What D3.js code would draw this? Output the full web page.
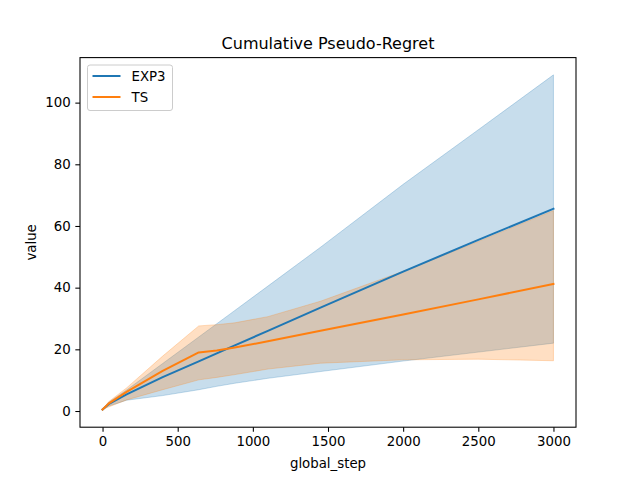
<!DOCTYPE html>
<html>
<head>
<meta charset="utf-8">
<script src="https://cdn.jsdelivr.net/npm/d3@7"></script>
<style>
  html, body { margin: 0; padding: 0; background: #fff; }
  svg { display: block; font-family: "DejaVu Sans", sans-serif; }
</style>
</head>
<body>
<svg id="chart" width="640" height="480"></svg>
<script>
// ---- data ----
const steps = [0, 40, 160, 400, 640, 760, 880, 1100, 1450, 2000, 2500, 3000];
const exp3Mean  = [0.5, 2.2, 5.4, 11.0, 16.1, 18.7, 21.3, 26.0, 33.5, 45.2, 55.5, 65.6];
const exp3Upper = [0.5, 2.8, 6.8, 15.4, 24.0, 28.3, 32.6, 40.5, 53.1, 73.5, 91.2, 109.0];
const exp3Lower = [0.5, 1.6, 3.5, 5.0, 6.9, 8.0, 9.0, 10.6, 12.8, 16.2, 19.1, 22.0];
const tsMean    = [0.5, 2.4, 6.2, 13.0, 19.0, 19.6, 20.6, 22.6, 26.0, 31.3, 36.2, 41.2];
const tsUpper   = [0.5, 3.0, 7.5, 17.8, 27.6, 28.0, 28.6, 30.6, 35.6, 45.3, 55.0, 65.0];
const tsLower   = [0.5, 1.3, 3.6, 6.9, 10.1, 10.9, 11.8, 13.6, 15.5, 16.6, 16.8, 16.3];
const seriesNames = ["EXP3", "TS"];
const xTicks = [0, 500, 1000, 1500, 2000, 2500, 3000];
const yTicks = [0, 20, 40, 60, 80, 100];
const colors = ["#1f77b4", "#ff7f0e"];

const series = [
  {name: seriesNames[0], mean: exp3Mean, lo: exp3Lower, hi: exp3Upper, color: colors[0]},
  {name: seriesNames[1], mean: tsMean, lo: tsLower, hi: tsUpper, color: colors[1]}
];

const mLeft = 80, mRight = 576, mTop = 57.6, mBottom = 427.2;
const svg = d3.select("#chart");

const x = d3.scaleLinear().domain([-150, 3150]).range([mLeft, mRight]);
const y = d3.scaleLinear().domain([-5.25, 114.6]).range([mBottom, mTop]);

const bands = svg.append("g");
const lines = svg.append("g");
series.forEach(s => {
  const pts = steps.map((st, i) => ({x: st, m: s.mean[i], lo: s.lo[i], hi: s.hi[i]}));
  const line = d3.line().x(d => x(d.x)).y(d => y(d.m));
  const area = d3.area().x(d => x(d.x)).y0(d => y(d.lo)).y1(d => y(d.hi));
  bands.append("path").datum(pts).attr("d", area)
    .attr("fill", s.color).attr("fill-opacity", 0.25)
    .attr("stroke", s.color).attr("stroke-opacity", 0.25).attr("stroke-width", 1);
  lines.append("path").datum(pts).attr("d", line)
    .attr("fill", "none").attr("stroke", s.color).attr("stroke-width", 2)
    .attr("stroke-linejoin", "round").attr("stroke-linecap", "square");
});

// axes
const xAxis = d3.axisBottom(x).tickValues(xTicks).tickSize(4.67).tickPadding(4.67).tickFormat(d3.format("d"));
const yAxis = d3.axisLeft(y).tickValues(yTicks).tickSize(4.67).tickPadding(4.67).tickFormat(d3.format("d"));
const gx = svg.append("g").attr("transform", `translate(0,${mBottom})`).call(xAxis);
const gy = svg.append("g").attr("transform", `translate(${mLeft},0)`).call(yAxis);
[gx, gy].forEach(g => {
  g.select(".domain").remove();
  g.selectAll("line").attr("stroke", "#000").attr("stroke-width", 1.07);
  g.selectAll("text").attr("fill", "#000").style("font-size", "13.33px")
    .style("font-family", "'DejaVu Sans', sans-serif");
});

// spines
svg.append("rect").attr("x", mLeft).attr("y", mTop)
  .attr("width", mRight - mLeft).attr("height", mBottom - mTop)
  .attr("fill", "none").attr("stroke", "#000").attr("stroke-width", 1.07);

// title and labels
svg.append("text").attr("x", (mLeft + mRight) / 2).attr("y", 49)
  .attr("text-anchor", "middle").style("font-size", "16px").attr("fill", "#000")
  .text("Cumulative Pseudo-Regret");
svg.append("text").attr("x", (mLeft + mRight) / 2).attr("y", 468)
  .attr("text-anchor", "middle").style("font-size", "13.33px").attr("fill", "#000")
  .text("global_step");
svg.append("text").attr("transform", `translate(36,${(mTop + mBottom) / 2}) rotate(-90)`)
  .attr("text-anchor", "middle").style("font-size", "13.33px").attr("fill", "#000")
  .text("value");

// legend
const lg = svg.append("g");
lg.append("rect").attr("x", 87.5).attr("y", 65).attr("width", 85).attr("height", 45.5)
  .attr("rx", 2.5).attr("fill", "#fff").attr("fill-opacity", 0.8)
  .attr("stroke", "#cccccc").attr("stroke-width", 1);
series.forEach((s, i) => {
  const yy = 76 + i * 21;
  lg.append("line").attr("x1", 92.5).attr("x2", 120.5).attr("y1", yy).attr("y2", yy)
    .attr("stroke", s.color).attr("stroke-width", 2);
  lg.append("text").attr("x", 131.5).attr("y", yy + 4.8).style("font-size", "13.33px")
    .attr("fill", "#000").text(s.name);
});
</script>
</body>
</html>
